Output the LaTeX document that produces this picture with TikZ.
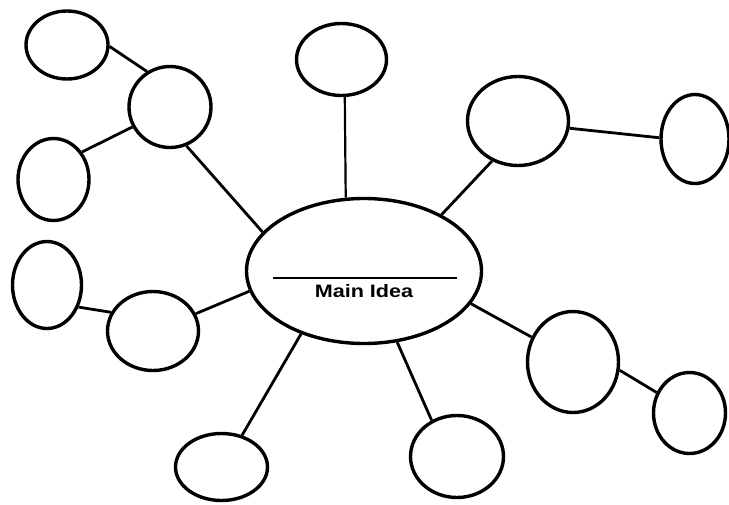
\documentclass[tikz,border=0pt]{standalone}
\usepackage{fontspec}
\setmainfont{Liberation Sans}
\usetikzlibrary{shapes.geometric}
\tikzset{
  bub/.style={ellipse, draw, line width=3.4pt, inner sep=0pt},
  conn/.style={line width=2.8pt},
  thinconn/.style={line width=2.2pt}
}
\begin{document}
\begin{tikzpicture}[x=1pt,y=-1pt]
\useasboundingbox (0,0) rectangle (729,504);
% main idea
\node[bub, minimum width=235pt, minimum height=145pt] (main) at (364,271) {};
\coordinate (ls) at (273,278);
\coordinate (le) at (457,278);
\draw[line width=2.2pt] (ls) -- (le);
\node[font=\bfseries\fontsize{18}{18}\selectfont, inner sep=0pt] (txt) at (364,291) {\scalebox{1.2}[1]{Main Idea}};
% satellites
\node[bub, minimum width=82pt, minimum height=68pt] (A) at (67,45) {};
\node[bub, minimum width=82pt, minimum height=81pt] (B) at (170,107) {};
\node[bub, minimum width=71pt, minimum height=82pt] (C) at (53.5,179.5) {};
\node[bub, minimum width=90pt, minimum height=72pt] (D) at (341.5,59.5) {};
\node[bub, minimum width=101pt, minimum height=89pt] (E) at (518,121) {};
\node[bub, minimum width=68pt, minimum height=89pt] (F) at (695,139) {};
\node[bub, minimum width=69pt, minimum height=87pt] (G) at (47,285) {};
\node[bub, minimum width=91pt, minimum height=79pt] (H) at (153,331) {};
\node[bub, minimum width=92pt, minimum height=67pt] (I) at (221.5,467) {};
\node[bub, minimum width=91pt, minimum height=101pt] (J) at (573,362) {};
\node[bub, minimum width=72pt, minimum height=81pt] (K) at (689.5,413) {};
\node[bub, minimum width=93pt, minimum height=82pt] (L) at (457,456.5) {};
% connectors
\draw[conn] (A.-2.7) -- (B.123.3);
\draw[conn] (C.44) -- (B.208.4);
\draw[conn] (B.293) -- (main.159.1);
\draw[thinconn] (D.275.3) -- (main.104.4);
\draw[conn] (main.36.6) -- (E.237.6);
\draw[conn] (E.352.3) -- (F.178.4);
\draw[conn] (G.325.1) -- (H.156.2);
\draw[conn] (H.22.2) -- (main.190.3);
\draw[conn] (main.225.5) -- (I.57.4);
\draw[conn] (main.295.3) -- (L.125.2);
\draw[conn] (main.343.9) -- (J.149.8);
\draw[conn] (J.350.3) -- (K.148.4);
\end{tikzpicture}
\end{document}
